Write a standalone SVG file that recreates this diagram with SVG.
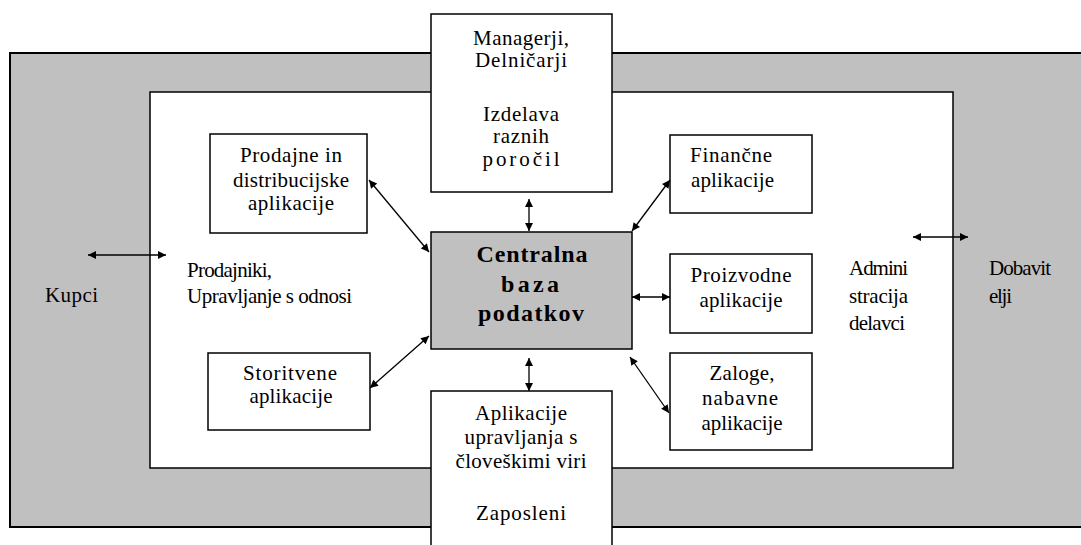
<svg xmlns="http://www.w3.org/2000/svg" width="1081" height="545" viewBox="0 0 1081 545">
<style>
.t{font-size:21px;fill:#000}
.b{font-size:24px;font-weight:bold;fill:#000}
.m{text-anchor:middle}
.box{fill:#fff;stroke:#000;stroke-width:1.5}
.conn line{stroke:#000;stroke-width:1.3;marker-start:url(#ah);marker-end:url(#ah)}
</style>
<defs>
<marker id="ah" viewBox="0 0 10 10" refX="10" refY="5" markerWidth="10" markerHeight="8" markerUnits="userSpaceOnUse" orient="auto-start-reverse">
<path d="M0,0 L10,5 L0,10 z" fill="#000"/>
</marker>
</defs>
<rect width="1081" height="545" fill="#fff"/>
<g font-family="Liberation Serif, DejaVu Serif, serif">
<g id="outer">
<rect x="10" y="53" width="1080" height="474" fill="#c0c0c0" stroke="#000" stroke-width="2"/>
<text class="t" x="45" y="302" textLength="53" lengthAdjust="spacing">Kupci</text>
<text class="t" x="989" y="275" textLength="62" lengthAdjust="spacing">Dobavit</text>
<text class="t" x="989" y="303" textLength="23" lengthAdjust="spacing">elji</text>
</g>
<g id="inner">
<rect x="150" y="92" width="803" height="376" fill="#fff" stroke="#000" stroke-width="1.5"/>
<text class="t" x="187" y="277" textLength="85" lengthAdjust="spacing">Prodajniki,</text>
<text class="t" x="187" y="303" textLength="165" lengthAdjust="spacing">Upravljanje s odnosi</text>
<text class="t" x="849" y="275" textLength="59" lengthAdjust="spacing">Admini</text>
<text class="t" x="849" y="303" textLength="59" lengthAdjust="spacing">stracija</text>
<text class="t" x="849" y="330" textLength="56" lengthAdjust="spacing">delavci</text>
</g>
<g id="managerji">
<rect class="box" x="431" y="14" width="181" height="178" stroke-width="2"/>
<text class="t m" x="521" y="45" textLength="96" lengthAdjust="spacing">Managerji,</text>
<text class="t m" x="521" y="67" textLength="92" lengthAdjust="spacing">Delničarji</text>
<text class="t m" x="521" y="121" textLength="76" lengthAdjust="spacing">Izdelava</text>
<text class="t m" x="521" y="143" textLength="56" lengthAdjust="spacing">raznih</text>
<text class="t m" x="521" y="166" textLength="77" lengthAdjust="spacing">poročil</text>
</g>
<g id="hr">
<rect class="box" x="431" y="391" width="181" height="170"/>
<text class="t m" x="521" y="420" textLength="92" lengthAdjust="spacing">Aplikacije</text>
<text class="t m" x="521" y="444" textLength="113" lengthAdjust="spacing">upravljanja s</text>
<text class="t m" x="521" y="468" textLength="131" lengthAdjust="spacing">človeškimi viri</text>
<text class="t m" x="521" y="520" textLength="90" lengthAdjust="spacing">Zaposleni</text>
</g>
<g id="central">
<rect x="431" y="232" width="201" height="117" fill="#c0c0c0" stroke="#000" stroke-width="1.5"/>
<text class="b m" x="532" y="262" textLength="111" lengthAdjust="spacing">Centralna</text>
<text class="b m" x="530" y="292" textLength="58" lengthAdjust="spacing">baza</text>
<text class="b m" x="531" y="321" textLength="106" lengthAdjust="spacing">podatkov</text>
</g>
<g id="prodajne">
<rect class="box" x="210" y="134" width="157" height="99"/>
<text class="t m" x="291" y="162" textLength="102" lengthAdjust="spacing">Prodajne in</text>
<text class="t m" x="291" y="187" textLength="116" lengthAdjust="spacing">distribucijske</text>
<text class="t m" x="291" y="210" textLength="86" lengthAdjust="spacing">aplikacije</text>
</g>
<g id="storitvene">
<rect class="box" x="208" y="353" width="162" height="77" stroke-width="2"/>
<text class="t m" x="290" y="380" textLength="94" lengthAdjust="spacing">Storitvene</text>
<text class="t m" x="291" y="403" textLength="83" lengthAdjust="spacing">aplikacije</text>
</g>
<g id="financne">
<rect class="box" x="670" y="135" width="142" height="78"/>
<text class="t" x="690" y="162" textLength="82" lengthAdjust="spacing">Finančne</text>
<text class="t" x="691" y="187" textLength="83" lengthAdjust="spacing">aplikacije</text>
</g>
<g id="proizvodne">
<rect class="box" x="670" y="254" width="142" height="79"/>
<text class="t m" x="741" y="282" textLength="101" lengthAdjust="spacing">Proizvodne</text>
<text class="t m" x="741" y="307" textLength="83" lengthAdjust="spacing">aplikacije</text>
</g>
<g id="zaloge">
<rect class="box" x="670" y="353" width="142" height="97"/>
<text class="t m" x="742" y="380" textLength="65" lengthAdjust="spacing">Zaloge,</text>
<text class="t m" x="740" y="405" textLength="76" lengthAdjust="spacing">nabavne</text>
<text class="t m" x="742" y="430" textLength="81" lengthAdjust="spacing">aplikacije</text>
</g>
</g>
<g id="connectors" class="conn">
<line x1="88" y1="255" x2="166" y2="255"/>
<line x1="913" y1="237" x2="968" y2="237"/>
<line x1="369" y1="180" x2="429" y2="252"/>
<line x1="529" y1="199" x2="529" y2="231"/>
<line x1="632" y1="231" x2="670" y2="180"/>
<line x1="632" y1="297" x2="670" y2="297"/>
<line x1="630" y1="357" x2="669" y2="413"/>
<line x1="529" y1="358" x2="529" y2="391"/>
<line x1="370" y1="388" x2="429" y2="336"/>
</g>
</svg>
